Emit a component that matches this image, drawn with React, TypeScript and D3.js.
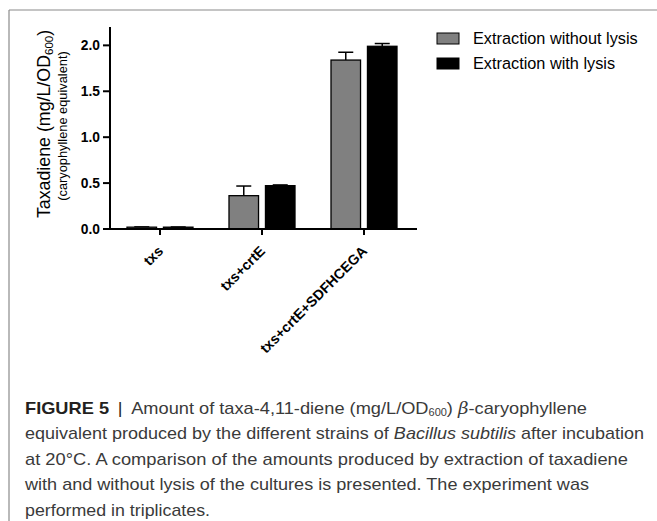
import React from "react";
import * as d3 from "d3";

const categories = ["txs", "txs+crtE", "txs+crtE+SDFHCEGA"];
const seriesNames = ["Extraction without lysis", "Extraction with lysis"];
const withoutLysis = [0.02, 0.363, 1.84];
const withoutLysisErr = [0.003, 0.105, 0.085];
const withLysis = [0.02, 0.472, 1.99];
const withLysisErr = [0.002, 0.008, 0.03];
const yTicks = [0, 0.5, 1.0, 1.5, 2.0];
const seriesColors = ["#808080", "#000000"];

const W = 657;
const H = 521;

export default function App() {
  const x = d3.scaleBand<string>().domain(categories).range([109, 415]).paddingInner(0).paddingOuter(0);
  const xi = d3.scaleBand<string>().domain(seriesNames).range([-33, 33]).paddingInner(0.19);
  const y = d3.scaleLinear().domain([0, 2.2]).range([229, 27]);
  const fmt = d3.format(".1f");
  const values = [withoutLysis, withLysis];
  const errs = [withoutLysisErr, withLysisErr];

  const captionX = 25;
  const capFont = "'Liberation Sans', Arial, sans-serif";
  const capColor = "#3a3a3a";
  const chartFont = "'Liberation Sans', Arial, sans-serif";
  const capY0 = 413.5;
  const capStep = 25.5;

  return (
    <div style={{ position: "absolute", left: 0, top: 0 }}>
      <svg width={W} height={H} style={{ display: "block", background: "#fff" }}>
        {/* frame */}
        <line x1={9} y1={10} x2={W} y2={10} stroke="#8a8a8a" strokeWidth={1.2} />
        <line x1={9} y1={10} x2={9} y2={H} stroke="#8a8a8a" strokeWidth={1.2} />

        {/* bars */}
        {categories.map((c, ci) => (
          <g key={c}>
            {seriesNames.map((s, si) => {
              const cx = (x(c) as number) + x.bandwidth() / 2;
              const bx = cx + (xi(s) as number);
              const bw = xi.bandwidth();
              const v = values[si][ci];
              const e = errs[si][ci];
              const midX = bx + bw / 2;
              return (
                <g key={s}>
                  <line x1={midX} x2={midX} y1={y(v)} y2={y(v + e)} stroke="#000" strokeWidth={1.5} />
                  <line x1={midX - 7.5} x2={midX + 7.5} y1={y(v + e)} y2={y(v + e)} stroke="#000" strokeWidth={1.5} />
                  <rect x={bx} y={y(v)} width={bw} height={y(0) - y(v)} fill={seriesColors[si]} stroke="#000" strokeWidth={1.3} />
                </g>
              );
            })}
          </g>
        ))}

        {/* y axis */}
        <line x1={110} x2={110} y1={y(2.2)} y2={y(0) + 1} stroke="#000" strokeWidth={2} />
        {yTicks.map((t) => (
          <g key={t}>
            <line x1={103} x2={110} y1={y(t)} y2={y(t)} stroke="#000" strokeWidth={2} />
            <text x={100} y={y(t)} dy="0.36em" textAnchor="end" fontFamily={chartFont} fontWeight="bold" fontSize={13.8} fill="#000">
              {fmt(t)}
            </text>
          </g>
        ))}

        {/* x axis */}
        <line x1={109} x2={417} y1={y(0)} y2={y(0)} stroke="#000" strokeWidth={2} />
        {categories.map((c) => {
          const cx = (x(c) as number) + x.bandwidth() / 2;
          return (
            <g key={c}>
              <line x1={cx} x2={cx} y1={y(0)} y2={y(0) + 6} stroke="#000" strokeWidth={2} />
              <text transform={`translate(${cx + 4},${y(0) + 23}) rotate(-45)`} textAnchor="end" fontFamily={chartFont} fontWeight="bold" fontSize={14.2} fill="#000">
                {c}
              </text>
            </g>
          );
        })}

        {/* y label */}
        <text transform="translate(50,124) rotate(-90)" textAnchor="middle" fontFamily={chartFont} fontSize={17.8} fill="#000">
          Taxadiene (mg/L/OD<tspan fontSize={11.5} dy={3}>600</tspan><tspan dy={-3}>)</tspan>
        </text>
        <text transform="translate(67,126) rotate(-90)" textAnchor="middle" fontFamily={chartFont} fontSize={12.8} fill="#000">
          (caryophyllene equivalent)
        </text>

        {/* legend */}
        {seriesNames.map((s, i) => (
          <g key={s}>
            <rect x={437} y={33 + i * 25} width={22} height={11} fill={seriesColors[i]} stroke="#000" strokeWidth={1} />
            <text x={473} y={38.5 + i * 25} dy="0.36em" fontFamily={chartFont} fontSize={16.3} fill="#000">
              {s}
            </text>
          </g>
        ))}

        {/* caption */}
        <g fontFamily={capFont} fontSize={16.6} fill={capColor}>
          <text x={captionX} y={capY0} textLength={587 - captionX} lengthAdjust="spacingAndGlyphs">
            <tspan fontWeight="bold" fill="#231f20">FIGURE 5</tspan>
            <tspan fill="#231f20">{"\u00A0\u2009|\u00A0\u2009"}</tspan>
            <tspan>Amount of taxa-4,11-diene (mg/L/OD</tspan>
            <tspan fontSize={10} dy={2}>600</tspan>
            <tspan dy={-2}>) </tspan>
            <tspan fontFamily="'DejaVu Serif', serif" fontStyle="italic">β</tspan>
            <tspan>-caryophyllene</tspan>
          </text>
          <text x={captionX} y={capY0 + capStep} textLength={644 - captionX} lengthAdjust="spacingAndGlyphs">
            <tspan>equivalent produced by the different strains of </tspan>
            <tspan fontStyle="italic">Bacillus subtilis</tspan>
            <tspan> after incubation</tspan>
          </text>
          <text x={captionX} y={capY0 + 2 * capStep} textLength={628 - captionX} lengthAdjust="spacingAndGlyphs">
            at 20°C. A comparison of the amounts produced by extraction of taxadiene
          </text>
          <text x={captionX} y={capY0 + 3 * capStep} textLength={589 - captionX} lengthAdjust="spacingAndGlyphs">
            with and without lysis of the cultures is presented. The experiment was
          </text>
          <text x={captionX} y={capY0 + 4 * capStep} textLength={210 - captionX} lengthAdjust="spacingAndGlyphs">
            performed in triplicates.
          </text>
        </g>
      </svg>
    </div>
  );
}
